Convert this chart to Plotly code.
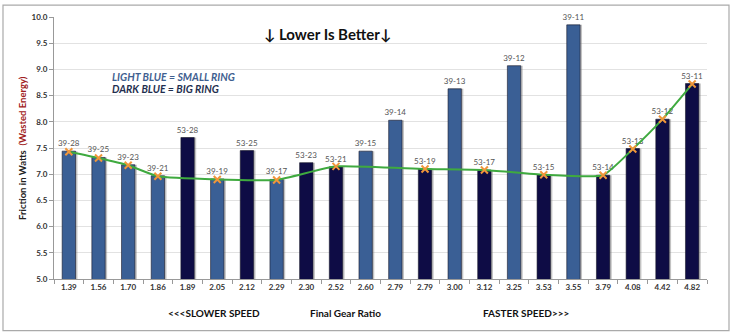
import plotly.graph_objects as go

ratios = ["1.39", "1.56", "1.70", "1.86", "1.89", "2.05", "2.12", "2.29", "2.30", "2.52", "2.60",
          "2.79", "2.79", "3.00", "3.12", "3.25", "3.53", "3.55", "3.79", "4.08", "4.42", "4.82"]
gears = ["39-28", "39-25", "39-23", "39-21", "53-28", "39-19", "53-25", "39-17", "53-23", "53-21", "39-15",
         "39-14", "53-19", "39-13", "53-17", "39-12", "53-15", "39-11", "53-14", "53-13", "53-12", "53-11"]
friction = [7.44, 7.32, 7.18, 6.97, 7.70, 6.91, 7.45, 6.90, 7.22, 7.14, 7.44,
            8.03, 7.10, 8.63, 7.08, 9.07, 6.99, 9.85, 6.98, 7.49, 8.05, 8.73]
# best-gear trend line (orange markers)
trend_idx = [0, 1, 2, 3, 5, 7, 9, 12, 14, 16, 18, 19, 20, 21]
trend_val = [7.43, 7.31, 7.17, 6.96, 6.90, 6.89, 7.15, 7.10, 7.08, 6.99, 6.98, 7.48, 8.05, 8.72]
y_ticks = [5.0, 5.5, 6.0, 6.5, 7.0, 7.5, 8.0, 8.5, 9.0, 9.5, 10.0]

LIGHT = "#3A5F95"
DARK = "#0E0C45"
colors = [LIGHT if g.startswith("39") else DARK for g in gears]
x = list(range(len(ratios)))

W, H = 733, 336
L, R, T, B = 54, 707, 15, 279

def px(xp):
    return (xp - L) / (R - L)

def py(yp):
    return (B - yp) / (B - T)

fig = go.Figure()
# shadow
fig.add_trace(go.Bar(x=x, y=friction, base=0, width=0.45, offset=-0.16,
                     marker=dict(color="rgba(120,120,120,0.45)", line=dict(width=0)),
                     hoverinfo="skip", showlegend=False))
fig.add_trace(go.Bar(x=x, y=friction, width=0.45, offset=-0.225,
                     marker=dict(color=colors, line=dict(color="#1a1a2a", width=0.6)),
                     text=gears, textposition="outside", cliponaxis=False, constraintext="none",
                     textfont=dict(size=8, color="#555555", family="Lato"),
                     showlegend=False))
fig.add_trace(go.Scatter(x=trend_idx, y=trend_val, mode="lines+markers",
                         line=dict(color="#3FAA3F", width=2, shape="spline", smoothing=0.45),
                         marker=dict(symbol="x-thin", size=7, color="#F0963A",
                                     line=dict(color="#F0963A", width=2)),
                         showlegend=False))

fig.update_layout(
    width=W, height=H,
    margin=dict(l=L, r=W - R, t=T, b=H - B),
    paper_bgcolor="white", plot_bgcolor="white",
    barmode="overlay",
    font=dict(family="Lato", color="#333333"),
    xaxis=dict(range=[-0.5, len(ratios) - 0.5], tickvals=x, ticktext=["<b>%s</b>" % r for r in ratios],
               tickfont=dict(size=8, color="#333333", family="Lato"),
               ticks="", showgrid=False, zeroline=False,
               showline=True, linecolor="#999999", linewidth=1,
               minor=dict(tickvals=[i + 0.5 for i in x[:-1]] + [-0.5, len(ratios) - 0.5],
                          ticks="outside", ticklen=4, tickcolor="#999999", showgrid=False),
               tickangle=0),
    yaxis=dict(range=[5, 10], tickvals=y_ticks, ticktext=["<b>%.1f</b>" % v for v in y_ticks],
               tickfont=dict(size=8, color="#333333", family="Lato"),
               ticks="outside", ticklen=4, tickcolor="#999999",
               showgrid=True, gridcolor="#E2E2E2", gridwidth=1, zeroline=False,
               showline=True, linecolor="#999999", linewidth=1),
)

anns = [
    dict(text="<b>↓ Lower Is Better↓</b>", x=px(327), y=py(32), font=dict(size=15, color="#111111")),
    dict(text="<b><i>LIGHT BLUE = SMALL RING</i></b>", x=px(110), y=py(75), xanchor="left",
         font=dict(size=10.5, color="#3F6090")),
    dict(text="<b><i>DARK BLUE = BIG RING</i></b>", x=px(110), y=py(88), xanchor="left",
         font=dict(size=10.5, color="#1F2F4F")),
    dict(text="<b>Friction in Watts  <span style='color:#A02020'>(Wasted Energy)</span></b>",
         x=px(22), y=py(147), textangle=-90, font=dict(size=9.5, color="#222222")),
    dict(text="<b><<<SLOWER SPEED</b>", x=px(166), y=py(313), xanchor="left",
         font=dict(size=10, color="#111111")),
    dict(text="<b>Final Gear Ratio</b>", x=px(345), y=py(313),
         font=dict(size=10, color="#111111")),
    dict(text="<b>FASTER SPEED>>></b>", x=px(481), y=py(313), xanchor="left",
         font=dict(size=10, color="#111111")),
]
for a in anns:
    a.setdefault("xanchor", "center")
    fig.add_annotation(xref="paper", yref="paper", showarrow=False, yanchor="middle", **a)

fig.add_shape(type="rect", xref="paper", yref="paper",
              x0=px(3), x1=px(729), y0=py(331), y1=py(3),
              line=dict(color="#AAAAAA", width=1.2), fillcolor="rgba(0,0,0,0)", layer="below")

fig.write_html("out.html")
